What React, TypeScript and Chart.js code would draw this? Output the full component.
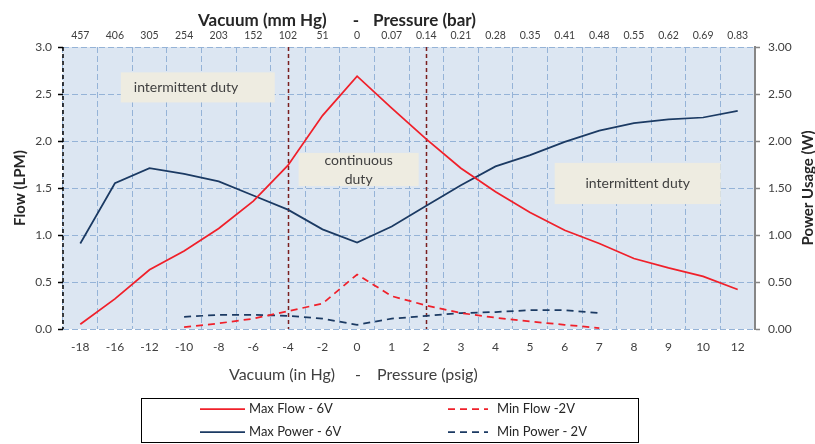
import React, { useEffect, useRef } from 'react';
import { Chart, registerables } from 'chart.js';

Chart.register(...registerables);

// ---------- data ----------
const categories = ['-18', '-16', '-12', '-10', '-8', '-6', '-4', '-2', '0', '1', '2', '3', '4', '5', '6', '7', '8', '9', '10', '12'];
const topLabels = ['457', '406', '305', '254', '203', '152', '102', '51', '0', '0.07', '0.14', '0.21', '0.28', '0.35', '0.41', '0.48', '0.55', '0.62', '0.69', '0.83'];

const maxFlow6V = [0.05, 0.32, 0.63, 0.83, 1.07, 1.36, 1.74, 2.27, 2.69, 2.35, 2.02, 1.71, 1.46, 1.24, 1.05, 0.91, 0.75, 0.65, 0.56, 0.42];
const maxPower6V = [0.91, 1.55, 1.71, 1.65, 1.57, 1.42, 1.27, 1.06, 0.92, 1.09, 1.31, 1.53, 1.73, 1.85, 1.99, 2.11, 2.19, 2.23, 2.25, 2.32];
const minFlow2V = [null, null, null, 0.02, 0.06, 0.11, 0.19, 0.27, 0.58, 0.35, 0.25, 0.17, 0.12, 0.08, 0.045, 0.01, null, null, null, null];
const minPower2V = [null, null, null, 0.13, 0.15, 0.15, 0.14, 0.11, 0.045, 0.11, 0.14, 0.17, 0.18, 0.2, 0.2, 0.17, null, null, null, null];

const seriesNames = ['Max Flow - 6V', 'Max Power - 6V', 'Min Flow -2V', 'Min Power - 2V'];
const dutyBoundaries = ['-4', '2'];
const annotationTexts = [['intermittent duty'], ['continuous', 'duty'], ['intermittent duty']];
const topTitleParts = ['Vacuum (mm Hg)', '-', 'Pressure (bar)'];
const bottomTitleParts = ['Vacuum (in Hg)', '-', 'Pressure (psig)'];
const leftTitle = 'Flow (LPM)';
const rightTitle = 'Power Usage (W)';

// ---------- styles ----------
const RED = '#f0202a';
const NAVY = '#1b3a63';
const GRID = '#95b3d7';
const PLOT_BG = '#dce6f2';
const BOX_BG = '#eeece1';
const DUTY_LINE = '#7a1f1f';
const TEXT = '#404040';
const TITLE = '#262626';
const FONT = 'Lato';

const decorPlugin = {
  id: 'decor',
  beforeDraw(chart: any) {
    const { ctx, chartArea } = chart;
    ctx.save();
    ctx.fillStyle = PLOT_BG;
    ctx.fillRect(chartArea.left, chartArea.top, chartArea.right - chartArea.left, chartArea.bottom - chartArea.top);
    ctx.restore();
  },
  beforeDatasetsDraw(chart: any) {
    const { ctx, chartArea, scales } = chart;
    const x = scales.x;
    const y = scales.y;
    ctx.save();
    // annotation boxes (in category-index / flow units)
    const boxes = [
      { x0: 1.17, x1: 5.62, y0: 2.73, y1: 2.41, align: 'left' },
      { x0: 6.31, x1: 9.78, y0: 1.873, y1: 1.52, align: 'center' },
      { x0: 13.71, x1: 18.51, y0: 1.767, y1: 1.329, align: 'center' },
    ];
    boxes.forEach((b, i) => {
      const px0 = x.getPixelForValue(b.x0);
      const px1 = x.getPixelForValue(b.x1);
      const py0 = y.getPixelForValue(b.y0);
      const py1 = y.getPixelForValue(b.y1);
      ctx.fillStyle = BOX_BG;
      ctx.fillRect(px0, py0, px1 - px0, py1 - py0);
      ctx.fillStyle = TEXT;
      ctx.font = `14px ${FONT}`;
      ctx.textBaseline = 'middle';
      const lines = annotationTexts[i];
      const lh = 19;
      const cy = (py0 + py1) / 2;
      lines.forEach((t, j) => {
        const ty = cy + (j - (lines.length - 1) / 2) * lh;
        if (b.align === 'left') {
          ctx.textAlign = 'left';
          ctx.fillText(t, px0 + 13, ty);
        } else {
          ctx.textAlign = 'center';
          ctx.fillText(t, (px0 + px1) / 2, ty);
        }
      });
    });
    // duty boundary lines
    ctx.strokeStyle = DUTY_LINE;
    ctx.lineWidth = 1.5;
    ctx.setLineDash([4, 3]);
    dutyBoundaries.forEach((c) => {
      const px = Math.round(x.getPixelForValue(categories.indexOf(c))) + 0.5;
      ctx.beginPath();
      ctx.moveTo(px, chartArea.top);
      ctx.lineTo(px, chartArea.bottom);
      ctx.stroke();
    });
    // left dashed black axis
    ctx.strokeStyle = '#000';
    ctx.lineWidth = 1.5;
    ctx.setLineDash([4, 3]);
    ctx.beginPath();
    ctx.moveTo(chartArea.left, chartArea.top);
    ctx.lineTo(chartArea.left, chartArea.bottom);
    ctx.stroke();
    ctx.restore();
  },
  afterDraw(chart: any) {
    const { ctx, chartArea } = chart;
    ctx.save();
    // top title
    ctx.fillStyle = TITLE;
    ctx.font = `bold 17px ${FONT}`;
    ctx.textBaseline = 'alphabetic';
    ctx.textAlign = 'left';
    ctx.fillText(topTitleParts[0], 198, 26);
    ctx.textAlign = 'center';
    ctx.fillText(topTitleParts[1], 356, 26);
    ctx.textAlign = 'left';
    ctx.fillText(topTitleParts[2], 373, 26);
    // bottom title
    ctx.fillStyle = TEXT;
    ctx.font = `16px ${FONT}`;
    ctx.textAlign = 'left';
    ctx.fillText(bottomTitleParts[0], 229, 380);
    ctx.textAlign = 'center';
    ctx.fillText(bottomTitleParts[1], 358, 380);
    ctx.textAlign = 'left';
    ctx.fillText(bottomTitleParts[2], 377, 380);
    // y titles
    const cy = (chartArea.top + chartArea.bottom) / 2;
    ctx.fillStyle = TITLE;
    ctx.font = `bold 15px ${FONT}`;
    ctx.textAlign = 'center';
    ctx.textBaseline = 'middle';
    ctx.save();
    ctx.translate(20, cy);
    ctx.rotate(-Math.PI / 2);
    ctx.fillText(leftTitle, 0, 0);
    ctx.restore();
    ctx.save();
    ctx.translate(808, cy);
    ctx.rotate(-Math.PI / 2);
    ctx.fillText(rightTitle, 0, 0);
    ctx.restore();
    // legend
    ctx.strokeStyle = '#000';
    ctx.lineWidth = 1;
    ctx.setLineDash([]);
    ctx.strokeRect(141.5, 398.5, 497, 44);
    const slots = [
      { x0: 200, x1: 245, tx: 249, y: 409 },
      { x0: 200, x1: 245, tx: 249, y: 432 },
      { x0: 448, x1: 488, tx: 497, y: 409 },
      { x0: 448, x1: 488, tx: 497, y: 432 },
    ];
    chart.data.datasets.forEach((ds: any, i: number) => {
      const s = slots[i];
      ctx.strokeStyle = ds.borderColor;
      ctx.lineWidth = ds.borderWidth;
      ctx.setLineDash(ds.borderDash || []);
      ctx.beginPath();
      ctx.moveTo(s.x0, s.y);
      ctx.lineTo(s.x1, s.y);
      ctx.stroke();
      ctx.setLineDash([]);
      ctx.fillStyle = TITLE;
      ctx.font = `13px ${FONT}`;
      ctx.textAlign = 'left';
      ctx.textBaseline = 'middle';
      ctx.fillText(ds.label, s.tx, s.y);
    });
    ctx.restore();
  },
};

export default function App() {
  const ref = useRef<HTMLCanvasElement | null>(null);

  useEffect(() => {
    if (!ref.current) return;
    document.body.style.margin = '0';
    const chart = new Chart(ref.current, {
      type: 'line',
      data: {
        labels: categories,
        datasets: [
          { label: seriesNames[0], data: maxFlow6V, borderColor: RED, borderWidth: 1.75, yAxisID: 'y', pointRadius: 0, tension: 0 },
          { label: seriesNames[1], data: maxPower6V, borderColor: NAVY, borderWidth: 1.75, yAxisID: 'y1', pointRadius: 0, tension: 0 },
          { label: seriesNames[2], data: minFlow2V, borderColor: RED, borderWidth: 1.75, borderDash: [7, 5], yAxisID: 'y', pointRadius: 0, tension: 0 },
          { label: seriesNames[3], data: minPower2V, borderColor: NAVY, borderWidth: 1.75, borderDash: [7, 5], yAxisID: 'y1', pointRadius: 0, tension: 0 },
        ],
      },
      options: {
        responsive: false,
        maintainAspectRatio: false,
        animation: false,
        layout: { padding: 0 },
        plugins: { legend: { display: false }, tooltip: { enabled: false } },
        scales: {
          x: {
            type: 'category',
            position: 'bottom',
            offset: true,
            grid: { offset: true, color: GRID, lineWidth: 1, drawTicks: false },
            border: { display: false, dash: [6, 3] },
            ticks: { padding: 11, color: TEXT, font: { family: FONT, size: 12 }, maxRotation: 0, autoSkip: false },
            afterFit: (s: any) => { s.height = 115; },
          },
          x2: {
            type: 'category',
            position: 'top',
            labels: topLabels,
            offset: true,
            grid: { display: false, drawTicks: false },
            border: { display: false },
            ticks: { padding: 5, color: TEXT, font: { family: FONT, size: 10.5 }, maxRotation: 0, autoSkip: false },
            afterFit: (s: any) => { s.height = 47; },
          },
          y: {
            position: 'left',
            min: 0,
            max: 3,
            grid: { color: GRID, lineWidth: 1, tickColor: '#000', tickLength: 5, tickWidth: 1.5 },
            border: { display: false, dash: [6, 3] },
            ticks: { stepSize: 0.5, padding: 6, color: TEXT, font: { family: FONT, size: 12 }, callback: (v: any) => Number(v).toFixed(1) },
            afterFit: (s: any) => { s.width = 63; },
          },
          y1: {
            position: 'right',
            min: 0,
            max: 3,
            grid: { drawOnChartArea: false, tickColor: '#868686', tickLength: 5, tickWidth: 1.5 },
            border: { display: true, color: '#868686', width: 2 },
            ticks: { stepSize: 0.5, padding: 8, color: TEXT, font: { family: FONT, size: 12 }, callback: (v: any) => Number(v).toFixed(2) },
            afterFit: (s: any) => { s.width = 60; },
          },
        },
      } as any,
      plugins: [decorPlugin],
    });
    return () => chart.destroy();
  }, []);

  return (
    <div style={{ position: 'absolute', left: 0, top: 0, width: 815, height: 444 }}>
      <canvas ref={ref} width={815} height={444} style={{ display: 'block', width: 815, height: 444 }} />
    </div>
  );
}
